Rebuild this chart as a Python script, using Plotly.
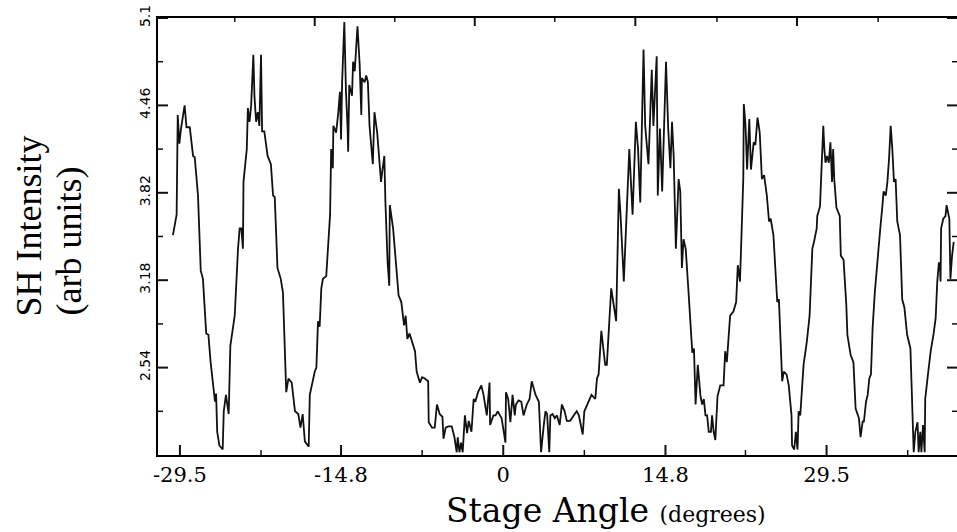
import plotly.graph_objects as go

# Stage angle (degrees) and SH intensity (arb units)
angle = [-30.14, -29.8, -29.7, -29.55, -29.4, -29.07, -28.9, -28.6, -28.3, -28.15, -27.85, -27.6, -27.4,
         -27.1, -26.9, -26.7, -26.3, -26.2, -26.1, -25.9, -25.6, -25.5, -25.3, -25.05, -24.9, -24.5, -24.2,
         -24.05, -23.9, -23.75, -23.7, -23.4, -23.3, -23.15, -23.0, -22.8, -22.7, -22.55, -22.4, -22.25,
         -22.1, -22.0, -21.8, -21.5, -21.2, -21.0, -20.85, -20.6, -20.3, -20.1, -19.8, -19.6, -19.3, -19.0,
         -18.7, -18.5, -18.3, -18.1, -17.75, -17.65, -17.2, -17.05, -16.9, -16.75, -16.6, -16.45, -16.15,
         -15.8, -15.7, -15.55, -15.5, -15.25, -15.05, -14.9, -14.8, -14.7, -14.5, -14.35, -14.2, -14.15,
         -14.05, -13.8, -13.7, -13.55, -13.3, -13.1, -12.95, -12.9, -12.65, -12.5, -12.35, -12.2, -11.9,
         -11.75, -11.5, -11.15, -11.05, -10.85, -10.75, -10.55, -10.4, -10.35, -10.05, -9.75, -9.55, -9.3,
         -9.05, -8.9, -8.75, -8.55, -8.2, -8.05, -7.9, -7.6, -7.4, -7.15, -6.85, -6.8, -6.5, -6.25, -6.05,
         -5.8, -5.55, -5.45, -5.25, -5.0, -4.7, -4.45, -4.25, -4.15, -4.0, -3.85, -3.7, -3.5, -3.3, -3.15,
         -2.9, -2.7, -2.55, -2.3, -2.0, -1.8, -1.5, -1.25, -1.2, -0.9, -0.7, -0.5, -0.3, -0.15, 0.2, 0.25,
         0.45, 0.65, 0.85, 1.05, 1.15, 1.4, 1.65, 1.85, 2.15, 2.4, 2.6, 2.95, 3.25, 3.45, 3.7, 3.85, 4.0,
         4.2, 4.3, 4.5, 4.7, 4.9, 5.15, 5.35, 5.6, 5.8, 6.1, 6.4, 6.7, 6.9, 7.25, 7.4, 7.8, 8.05, 8.4, 8.55,
         8.7, 8.95, 9.3, 9.45, 9.85, 10.1, 10.3, 10.55, 10.7, 11.0, 11.3, 11.5, 11.8, 12.1, 12.3, 12.5,
         12.8, 12.95, 13.25, 13.55, 13.7, 14.0, 14.1, 14.3, 14.5, 14.85, 15.05, 15.25, 15.4, 15.55, 15.75,
         16.0, 16.15, 16.3, 16.45, 16.65, 16.9, 17.1, 17.25, 17.4, 17.55, 17.75, 18.0, 18.15, 18.3, 18.45,
         18.6, 18.75, 18.95, 19.05, 19.2, 19.35, 19.55, 19.8, 20.1, 20.25, 20.4, 20.7, 21.0, 21.25, 21.4,
         21.6, 21.8, 21.9, 21.95, 22.1, 22.25, 22.45, 22.6, 22.85, 23.0, 23.2, 23.4, 23.6, 23.8, 24.05,
         24.25, 24.4, 24.65, 24.85, 25.0, 25.15, 25.45, 25.6, 25.85, 26.05, 26.3, 26.35, 26.55, 26.7,
         26.85, 26.95, 27.1, 27.4, 27.7, 27.95, 28.2, 28.35, 28.45, 28.6, 28.65, 28.9, 29.0, 29.2, 29.3,
         29.4, 29.55, 29.7, 29.85, 30.0, 30.1, 30.2, 30.4, 30.7, 30.8, 31.05, 31.3, 31.4, 31.7, 31.95,
         32.15, 32.45, 32.6, 32.8, 32.9, 33.1, 33.25, 33.4, 33.55, 33.7, 33.9, 34.15, 34.4, 34.6, 34.7,
         34.9, 35.05, 35.2, 35.35, 35.5, 35.65, 35.8, 35.95, 36.2, 36.4, 36.6, 36.85, 37.15, 37.3, 37.45,
         37.6, 37.8, 37.9, 38.05, 38.15, 38.3, 38.45, 38.5, 38.75, 39.0, 39.25, 39.45, 39.6, 39.75, 39.85,
         39.9, 39.95, 40.15, 40.35, 40.45, 40.7, 40.8, 40.95, 41.1]

intensity = [3.51, 3.66, 4.39, 4.18, 4.29, 4.46, 4.30, 4.30, 4.09, 4.08, 3.80, 3.25, 3.19,
             2.79, 2.78, 2.58, 2.29, 2.35, 2.07, 1.97, 1.94, 2.22, 2.34, 2.20, 2.70, 2.92, 3.41,
             3.56, 3.56, 3.41, 3.90, 4.14, 4.44, 4.34, 4.46, 4.83, 4.53, 4.34, 4.41, 4.31,
             4.83, 4.27, 4.27, 4.09, 4.03, 3.80, 3.79, 3.27, 3.19, 3.09, 2.36, 2.46, 2.43, 2.22,
             2.20, 2.10, 2.20, 2.00, 1.96, 2.34, 2.51, 2.54, 2.88, 2.84, 3.12, 3.19, 3.21,
             3.66, 4.14, 4.00, 4.31, 4.26, 4.41, 4.56, 4.21, 4.63, 5.07, 4.56, 4.29, 4.12,
             4.61, 4.53, 4.78, 4.71, 5.04, 4.76, 4.39, 4.66, 4.63, 4.68, 4.63, 4.31, 4.03,
             4.41, 4.26, 3.90, 3.97, 4.09, 3.75, 3.31, 3.14, 3.73, 3.56, 3.27, 3.07, 3.02,
             2.85, 2.92, 2.75, 2.79, 2.70, 2.66, 2.51, 2.43, 2.47, 2.46, 2.44, 2.14, 2.10, 2.10, 2.27,
             2.20, 2.18, 2.02, 2.10, 2.11, 2.11, 2.03, 1.92, 2.03, 1.92, 1.99, 1.92, 2.19, 2.06, 2.15,
             2.07, 2.31, 2.29, 2.36, 2.41, 2.34, 2.19, 2.43, 2.12, 2.19, 2.19, 2.22, 2.19, 2.17, 1.99, 2.36,
             2.31, 2.14, 2.34, 2.19, 2.27, 2.30, 2.29, 2.19, 2.27, 2.31, 2.44, 2.34, 2.29, 1.92, 2.12, 2.22, 2.20,
             1.92, 2.19, 2.20, 2.17, 2.19, 2.12, 2.27, 2.22, 2.15, 2.15, 2.19, 2.22, 2.19, 2.05, 2.22, 2.29, 2.34, 2.31, 2.46,
             2.49, 2.81, 2.56, 2.56, 3.12, 3.00, 2.88, 3.85, 3.66, 3.17, 3.78, 4.14, 3.66, 4.34, 4.14, 3.75,
             4.87, 4.31, 4.03, 4.72, 4.31, 4.82, 3.80, 4.29, 3.83, 4.78, 4.29, 4.00, 4.34, 4.09, 3.41,
             3.92, 3.83, 3.27, 3.48, 3.41, 3.10, 2.84, 2.65, 2.68, 2.27, 2.56, 2.33, 2.27, 2.31, 2.19,
             2.19, 2.07, 2.07, 2.19, 2.07, 2.01, 2.33, 2.41, 2.41, 2.66, 2.58, 2.92, 2.95, 3.02, 3.29,
             3.17, 3.70, 3.92, 4.47, 4.32, 3.99, 4.36, 3.99, 4.19, 4.17, 4.37, 4.26, 3.92, 3.95, 3.80,
             3.61, 3.63, 3.51, 3.21, 3.02, 3.04, 2.44, 2.51, 2.49, 2.41, 2.19, 1.97, 1.94, 2.07,
             1.94, 2.22, 2.19, 2.56, 2.73, 2.92, 3.41, 3.46, 3.51, 3.56, 3.65, 3.72, 3.92, 4.31, 4.14,
             4.04, 4.09, 4.04, 4.19, 3.90, 4.14, 3.92, 3.71, 3.65, 3.36, 3.33, 3.00, 2.78, 2.63, 2.58,
             2.24, 2.17, 2.03, 2.15, 2.14, 2.29, 2.34, 2.46, 2.49, 2.83, 3.09, 3.36, 3.56, 3.73, 3.83,
             3.80, 3.90, 4.07, 4.31, 4.14, 3.90, 3.92, 3.61, 3.51, 3.04, 2.98, 2.78, 2.68, 2.31, 1.92,
             2.07, 2.14, 1.92, 2.07, 1.92, 2.12, 1.92, 2.31, 2.49, 2.66, 2.78, 2.90, 3.17, 3.31, 3.27,
             3.17, 3.56, 3.63, 3.65, 3.73, 3.63, 3.19, 3.36, 3.46]

# tick values and labels
x_major = [-29.5, -14.8, 0, 14.8, 29.5]
x_major_labels = ["-29.5", "-14.8", "0", "14.8", "29.5"]
x_minor = [-22.1, -7.4, 7.4, 22.1, 36.9]
top_major = [-17.2, -2.6, 12.05, 26.8]
top_minor = [-24.5, -9.9, 4.7, 19.5, 34.2]
y_major = [2.54, 3.18, 3.82, 4.46, 5.1]
y_major_labels = ["2.54", "3.18", "3.82", "4.46", "5.1"]
y_minor = [2.22, 2.86, 3.5, 4.14, 4.78]

X_RANGE = [-31.5, 41.4]
Y_RANGE = [1.9, 5.1]

# plot-area size in pixels (figure size minus margins), used to turn
# tick lengths in pixels into axis units
W, H = 957, 532
M = dict(l=158, r=0, t=18, b=77)
XPP = (X_RANGE[1] - X_RANGE[0]) / (W - M["l"] - M["r"])
YPP = (Y_RANGE[1] - Y_RANGE[0]) / (H - M["t"] - M["b"])


def tick_segments(bottom, top, left, right, lb, lt, ll, lr):
    """Build inward tick segments (separated by None) on the four frame sides."""
    xs, ys = [], []
    for v in bottom:
        xs += [v, v, None]
        ys += [Y_RANGE[0], Y_RANGE[0] + lb * YPP, None]
    for v in top:
        xs += [v, v, None]
        ys += [Y_RANGE[1], Y_RANGE[1] - lt * YPP, None]
    for v in left:
        xs += [X_RANGE[0], X_RANGE[0] + ll * XPP, None]
        ys += [v, v, None]
    for v in right:
        xs += [X_RANGE[1], X_RANGE[1] - lr * XPP, None]
        ys += [v, v, None]
    return xs, ys


fig = go.Figure()
fig.add_trace(go.Scatter(x=angle, y=intensity, mode="lines",
                         line=dict(color="#111111", width=1.8), showlegend=False))

mx, my = tick_segments(x_major, top_major, y_major, y_major, 10, 8, 10, 10)
fig.add_trace(go.Scatter(x=mx, y=my, mode="lines", line=dict(color="#111111", width=2),
                         showlegend=False, hoverinfo="skip", cliponaxis=False))
nx, ny = tick_segments(x_minor, top_minor, y_minor, y_minor, 5, 4, 5, 5)
fig.add_trace(go.Scatter(x=nx, y=ny, mode="lines", line=dict(color="#111111", width=1.5),
                         showlegend=False, hoverinfo="skip", cliponaxis=False))

fig.update_layout(
    width=W, height=H, autosize=False,
    margin=M,
    paper_bgcolor="white", plot_bgcolor="white",
    xaxis=dict(range=X_RANGE, tickmode="array", tickvals=x_major, ticktext=x_major_labels,
               ticks="", showline=True, linewidth=2, linecolor="black", mirror=True,
               showgrid=False, zeroline=False,
               tickfont=dict(family="DejaVu Serif", size=21, color="black")),
    yaxis=dict(range=Y_RANGE, tickmode="array", tickvals=y_major, ticktext=y_major_labels,
               ticks="", tickangle=-90,
               showline=True, linewidth=2, linecolor="black", mirror=False,
               showgrid=False, zeroline=False,
               tickfont=dict(family="DejaVu Sans", size=14, color="black")),
)

fig.add_annotation(
    text="Stage Angle <span style='font-size:22px'>(degrees)</span>",
    xref="paper", yref="paper", x=0.561, y=-0.128, xanchor="center", yanchor="middle",
    showarrow=False, font=dict(family="DejaVu Serif", size=33, color="black"))

fig.add_annotation(
    text="SH Intensity",
    xref="paper", yref="paper", x=-0.1615, y=0.3135, xanchor="center", yanchor="bottom",
    textangle=-90, showarrow=False,
    font=dict(family="Liberation Serif", size=36, color="black"))

fig.add_annotation(
    text="(arb units)",
    xref="paper", yref="paper", x=-0.1126, y=0.3135, xanchor="center", yanchor="bottom",
    textangle=-90, showarrow=False,
    font=dict(family="Liberation Serif", size=36, color="black"))

fig.write_html("out.html")
